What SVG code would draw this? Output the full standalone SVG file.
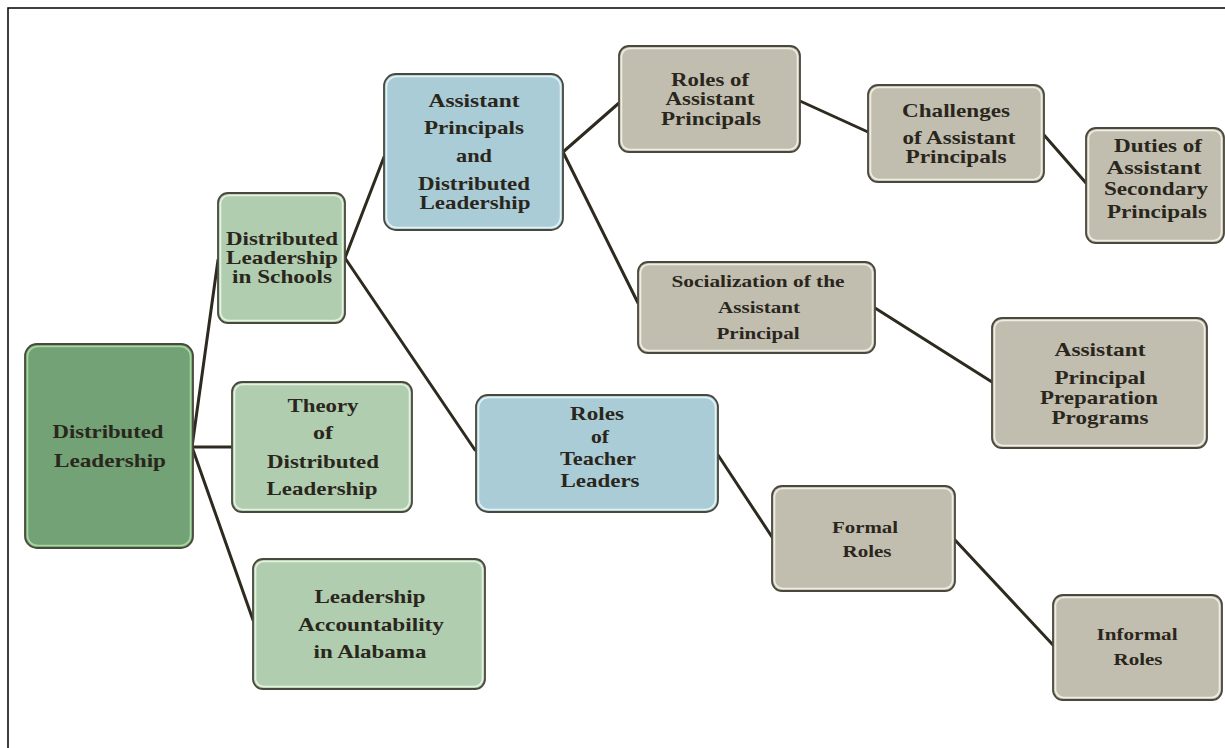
<svg xmlns="http://www.w3.org/2000/svg" width="1225" height="748" viewBox="0 0 1225 748">
<style>
.box{stroke:#4a473c;stroke-width:1.8}
.hi{fill:none;stroke-width:1.6}
.dg{fill:#72a275}.dgh{stroke:#a6d8a0}
.lg{fill:#b0cdb0}.lgh{stroke:#e4f2e0}
.bl{fill:#a9ccd6}.blh{stroke:#e2f2f6}
.gr{fill:#c1beb0}.grh{stroke:#f0eee2}
text{font-family:"Liberation Serif","Times New Roman",serif;font-weight:bold;fill:#2a261c;text-anchor:middle;font-size:19px}
.sm{font-size:16px}
#connectors line{stroke:#2e2a20;stroke-width:3;stroke-linecap:round}
</style>
<rect x="8" y="8" width="1240" height="760" fill="#fff" stroke="#000" stroke-width="1.5"/>
<g id="connectors">
<line x1="192" y1="447" x2="218" y2="260"/>
<line x1="192" y1="447" x2="232" y2="447"/>
<line x1="192" y1="447" x2="253" y2="620"/>
<line x1="345" y1="258" x2="384" y2="157"/>
<line x1="345" y1="258" x2="475" y2="450"/>
<line x1="563" y1="152" x2="619" y2="103"/>
<line x1="563" y1="152" x2="638" y2="303"/>
<line x1="800" y1="101" x2="868" y2="132"/>
<line x1="1044" y1="135" x2="1086" y2="183"/>
<line x1="875" y1="308" x2="992" y2="382"/>
<line x1="718" y1="455" x2="772" y2="537"/>
<line x1="955" y1="540" x2="1053" y2="645"/>
</g>
<g id="n-root">
<rect class="box dg" x="25" y="344" width="168" height="204" rx="12"/>
<rect class="hi dgh" x="27.5" y="346.5" width="163" height="199" rx="10"/>
<text x="108" y="438" textLength="111" lengthAdjust="spacingAndGlyphs">Distributed</text>
<text x="110" y="467" textLength="112" lengthAdjust="spacingAndGlyphs">Leadership</text>
</g>
<g id="n-schools">
<rect class="box lg" x="218" y="193" width="127" height="130" rx="10"/>
<rect class="hi lgh" x="220.5" y="195.5" width="122" height="125" rx="8"/>
<text x="282" y="245" textLength="112" lengthAdjust="spacingAndGlyphs">Distributed</text>
<text x="282" y="264" textLength="112" lengthAdjust="spacingAndGlyphs">Leadership</text>
<text x="282" y="283" textLength="100" lengthAdjust="spacingAndGlyphs">in Schools</text>
</g>
<g id="n-theory">
<rect class="box lg" x="232" y="382" width="180" height="130" rx="10"/>
<rect class="hi lgh" x="234.5" y="384.5" width="175" height="125" rx="8"/>
<text x="323" y="412" textLength="71" lengthAdjust="spacingAndGlyphs">Theory</text>
<text x="323" y="439" textLength="20" lengthAdjust="spacingAndGlyphs">of</text>
<text x="323" y="468" textLength="112" lengthAdjust="spacingAndGlyphs">Distributed</text>
<text x="322" y="495" textLength="111" lengthAdjust="spacingAndGlyphs">Leadership</text>
</g>
<g id="n-alabama">
<rect class="box lg" x="253" y="559" width="232" height="130" rx="10"/>
<rect class="hi lgh" x="255.5" y="561.5" width="227" height="125" rx="8"/>
<text x="370" y="603" textLength="111" lengthAdjust="spacingAndGlyphs">Leadership</text>
<text x="371" y="631" textLength="146" lengthAdjust="spacingAndGlyphs">Accountability</text>
<text x="370" y="658" textLength="113" lengthAdjust="spacingAndGlyphs">in Alabama</text>
</g>
<g id="n-apdl">
<rect class="box bl" x="384" y="74" width="179" height="156" rx="12"/>
<rect class="hi blh" x="386.5" y="76.5" width="174" height="151" rx="10"/>
<text x="474" y="107" textLength="91" lengthAdjust="spacingAndGlyphs">Assistant</text>
<text x="474" y="134" textLength="100" lengthAdjust="spacingAndGlyphs">Principals</text>
<text x="474" y="162" textLength="36" lengthAdjust="spacingAndGlyphs">and</text>
<text x="474" y="190" textLength="112" lengthAdjust="spacingAndGlyphs">Distributed</text>
<text x="475" y="209" textLength="111" lengthAdjust="spacingAndGlyphs">Leadership</text>
</g>
<g id="n-roles-ap">
<rect class="box gr" x="619" y="46" width="181" height="106" rx="10"/>
<rect class="hi grh" x="621.5" y="48.5" width="176" height="101" rx="8"/>
<text x="710" y="86" textLength="78" lengthAdjust="spacingAndGlyphs">Roles of</text>
<text x="710" y="105" textLength="89" lengthAdjust="spacingAndGlyphs">Assistant</text>
<text x="711" y="125" textLength="100" lengthAdjust="spacingAndGlyphs">Principals</text>
</g>
<g id="n-social">
<rect class="box gr" x="638" y="262" width="237" height="91" rx="10"/>
<rect class="hi grh" x="640.5" y="264.5" width="232" height="86" rx="8"/>
<text class="sm" x="758" y="287" textLength="173" lengthAdjust="spacingAndGlyphs">Socialization of the</text>
<text class="sm" x="759" y="313" textLength="82" lengthAdjust="spacingAndGlyphs">Assistant</text>
<text class="sm" x="758" y="339" textLength="83" lengthAdjust="spacingAndGlyphs">Principal</text>
</g>
<g id="n-challenges">
<rect class="box gr" x="868" y="85" width="176" height="97" rx="10"/>
<rect class="hi grh" x="870.5" y="87.5" width="171" height="92" rx="8"/>
<text x="956" y="117" textLength="108" lengthAdjust="spacingAndGlyphs">Challenges</text>
<text x="959" y="144" textLength="113" lengthAdjust="spacingAndGlyphs">of Assistant</text>
<text x="956" y="163" textLength="101" lengthAdjust="spacingAndGlyphs">Principals</text>
</g>
<g id="n-duties">
<rect class="box gr" x="1086" y="128" width="138" height="115" rx="10"/>
<rect class="hi grh" x="1088.5" y="130.5" width="133" height="110" rx="8"/>
<text x="1158" y="152" textLength="88" lengthAdjust="spacingAndGlyphs">Duties of</text>
<text x="1154" y="174" textLength="95" lengthAdjust="spacingAndGlyphs">Assistant</text>
<text x="1156" y="195" textLength="104" lengthAdjust="spacingAndGlyphs">Secondary</text>
<text x="1157" y="218" textLength="100" lengthAdjust="spacingAndGlyphs">Principals</text>
</g>
<g id="n-prep">
<rect class="box gr" x="992" y="318" width="215" height="130" rx="10"/>
<rect class="hi grh" x="994.5" y="320.5" width="210" height="125" rx="8"/>
<text x="1100" y="356" textLength="91" lengthAdjust="spacingAndGlyphs">Assistant</text>
<text x="1100" y="384" textLength="91" lengthAdjust="spacingAndGlyphs">Principal</text>
<text x="1099" y="404" textLength="118" lengthAdjust="spacingAndGlyphs">Preparation</text>
<text x="1100" y="424" textLength="97" lengthAdjust="spacingAndGlyphs">Programs</text>
</g>
<g id="n-teacher">
<rect class="box bl" x="476" y="395" width="242" height="117" rx="12"/>
<rect class="hi blh" x="478.5" y="397.5" width="237" height="112" rx="10"/>
<text x="597" y="420" textLength="54" lengthAdjust="spacingAndGlyphs">Roles</text>
<text x="600" y="443" textLength="18" lengthAdjust="spacingAndGlyphs">of</text>
<text x="598" y="465" textLength="76" lengthAdjust="spacingAndGlyphs">Teacher</text>
<text x="600" y="487" textLength="79" lengthAdjust="spacingAndGlyphs">Leaders</text>
</g>
<g id="n-formal">
<rect class="box gr" x="772" y="486" width="183" height="105" rx="10"/>
<rect class="hi grh" x="774.5" y="488.5" width="178" height="100" rx="8"/>
<text class="sm" x="865" y="533" textLength="66" lengthAdjust="spacingAndGlyphs">Formal</text>
<text class="sm" x="867" y="557" textLength="49" lengthAdjust="spacingAndGlyphs">Roles</text>
</g>
<g id="n-informal">
<rect class="box gr" x="1053" y="595" width="169" height="105" rx="10"/>
<rect class="hi grh" x="1055.5" y="597.5" width="164" height="100" rx="8"/>
<text class="sm" x="1137" y="640" textLength="81" lengthAdjust="spacingAndGlyphs">Informal</text>
<text class="sm" x="1138" y="665" textLength="49" lengthAdjust="spacingAndGlyphs">Roles</text>
</g>
</svg>
